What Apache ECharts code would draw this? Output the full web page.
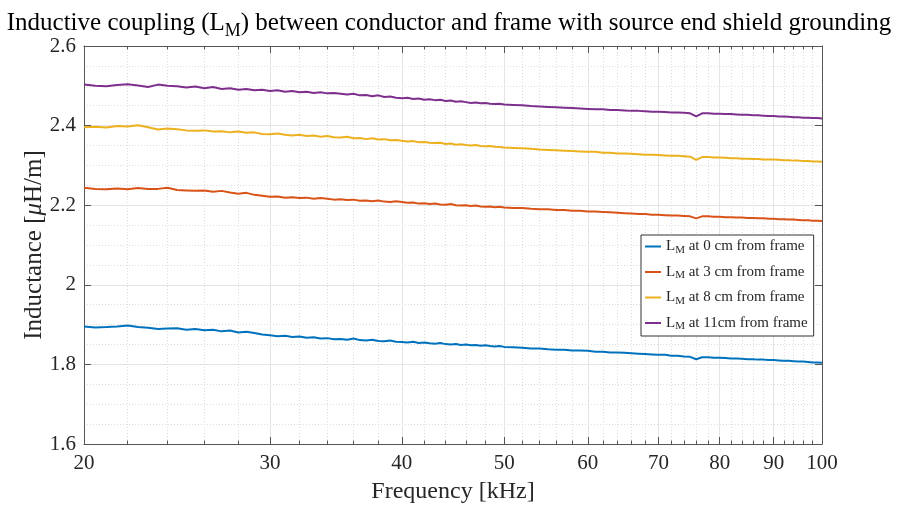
<!DOCTYPE html>
<html><head><meta charset="utf-8">
<script src="https://cdn.jsdelivr.net/npm/echarts@6/dist/echarts.min.js"></script>
<style>html,body{margin:0;padding:0;background:#fff}#c{width:898px;height:508px}</style>
</head><body><div id="c"></div>
<script>
const freqKHz = [20,20.5,21,21.5,22,22.5,23,23.5,24,24.5,
25,25.5,26,26.5,27,27.5,28,28.5,29,29.5,
30,30.5,31,31.5,32,32.5,33,33.5,34,34.5,
35,35.5,36,36.5,37,37.5,38,38.5,39,39.5,
40,40.5,41,41.5,42,42.5,43,43.5,44,44.5,
45,45.5,46,46.5,47,47.5,48,48.5,49,49.5,
50,51,52,53,54,55,56,57,58,59,
60,61,62,63,64,65,66,67,68,69,
70,71,72,73,74,75,76,77,78,79,
80,81,82,83,84,85,86,87,88,89,
90,91,92,93,94,95,96,97,98,99,100];

const lm0cm = [1.895,1.893,1.894,1.895,1.898,1.894,1.892,1.889,1.890,1.891,
1.887,1.889,1.886,1.887,1.883,1.885,1.880,1.882,1.879,1.875,
1.873,1.871,1.872,1.869,1.870,1.867,1.868,1.865,1.866,1.863,
1.864,1.862,1.865,1.861,1.860,1.862,1.859,1.858,1.860,1.857,
1.856,1.855,1.857,1.854,1.855,1.853,1.852,1.854,1.851,1.850,
1.851,1.849,1.850,1.848,1.849,1.847,1.848,1.846,1.845,1.846,
1.844,1.843,1.842,1.840,1.840,1.838,1.837,1.837,1.835,1.835,
1.834,1.832,1.832,1.830,1.830,1.829,1.828,1.827,1.826,1.825,
1.824,1.824,1.822,1.822,1.820,1.819,1.813,1.818,1.818,1.817,
1.817,1.816,1.815,1.815,1.814,1.813,1.813,1.812,1.812,1.811,
1.811,1.810,1.809,1.809,1.808,1.807,1.807,1.806,1.805,1.805,1.804];

const lm3cm = [2.244,2.241,2.240,2.242,2.240,2.243,2.241,2.241,2.244,2.238,
2.237,2.236,2.237,2.234,2.236,2.232,2.229,2.231,2.226,2.224,
2.221,2.222,2.219,2.220,2.218,2.219,2.216,2.218,2.216,2.214,
2.215,2.213,2.214,2.211,2.212,2.210,2.212,2.209,2.208,2.210,
2.208,2.206,2.207,2.204,2.205,2.203,2.204,2.202,2.201,2.203,
2.200,2.199,2.200,2.198,2.199,2.197,2.196,2.197,2.195,2.196,
2.194,2.193,2.193,2.191,2.190,2.190,2.188,2.188,2.186,2.186,
2.184,2.184,2.183,2.182,2.181,2.180,2.179,2.178,2.178,2.176,
2.176,2.175,2.174,2.174,2.173,2.172,2.167,2.172,2.172,2.171,
2.171,2.170,2.170,2.169,2.169,2.168,2.168,2.167,2.167,2.166,
2.166,2.165,2.165,2.164,2.164,2.163,2.162,2.162,2.161,2.161,2.160];

const lm8cm = [2.396,2.397,2.395,2.399,2.398,2.401,2.396,2.390,2.393,2.391,
2.388,2.387,2.388,2.385,2.386,2.383,2.385,2.382,2.383,2.379,
2.378,2.380,2.377,2.375,2.377,2.374,2.375,2.372,2.374,2.371,
2.370,2.372,2.368,2.369,2.366,2.368,2.365,2.366,2.363,2.364,
2.362,2.360,2.361,2.358,2.359,2.357,2.356,2.357,2.354,2.355,
2.352,2.353,2.351,2.350,2.351,2.349,2.348,2.349,2.347,2.346,
2.345,2.344,2.343,2.342,2.340,2.339,2.338,2.337,2.336,2.335,
2.334,2.334,2.332,2.332,2.330,2.330,2.329,2.328,2.327,2.327,
2.326,2.325,2.324,2.324,2.323,2.322,2.314,2.321,2.321,2.320,
2.320,2.319,2.318,2.318,2.317,2.317,2.316,2.316,2.315,2.315,
2.315,2.314,2.313,2.313,2.312,2.312,2.311,2.311,2.310,2.310,2.309];

const lm11cm = [2.503,2.500,2.499,2.502,2.504,2.501,2.497,2.503,2.500,2.499,
2.496,2.498,2.494,2.497,2.492,2.494,2.490,2.492,2.489,2.490,
2.487,2.489,2.485,2.487,2.484,2.485,2.482,2.484,2.481,2.482,
2.480,2.478,2.480,2.476,2.477,2.474,2.476,2.472,2.473,2.470,
2.469,2.470,2.467,2.468,2.465,2.466,2.464,2.465,2.462,2.463,
2.460,2.461,2.459,2.457,2.458,2.456,2.457,2.455,2.454,2.455,
2.453,2.452,2.451,2.449,2.448,2.447,2.446,2.445,2.444,2.443,
2.442,2.441,2.441,2.439,2.439,2.438,2.437,2.437,2.436,2.435,
2.435,2.434,2.433,2.433,2.432,2.431,2.423,2.431,2.431,2.430,
2.430,2.429,2.429,2.428,2.427,2.427,2.426,2.426,2.425,2.424,
2.424,2.423,2.423,2.422,2.421,2.421,2.420,2.420,2.419,2.419,2.418];

const seriesNames = ['LM at 0 cm from frame','LM at 3 cm from frame','LM at 8 cm from frame','LM at 11cm from frame'];
const seriesValues = [lm0cm, lm3cm, lm8cm, lm11cm];
const seriesColors = ['#0072BD','#D95319','#EDB120','#7E2F8E'];
const majorTicks = [20,30,40,50,60,70,80,90,100];
const minorTicks = [22,24,26,28,32,34,36,38,42,44,46,48,52,54,56,58,62,64,66,68,72,74,76,78,82,84,86,88,92,94,96,98];

const FONT = '"Liberation Serif", "Times New Roman", serif';
const AX = '#555555';
const TXT = '#262626';
const xMin = Math.log10(20), xMax = Math.log10(100);
const majorLog = majorTicks.map(v => Math.log10(v));
const minorLog = minorTicks.map(v => Math.log10(v));

function xAx(pos, ticks, len, opts) {
  return Object.assign({
    type: 'value', position: pos, min: xMin, max: xMax,
    axisLine: { show: false },
    axisTick: { show: true, inside: true, length: len, customValues: ticks, lineStyle: { color: AX, width: 1 } },
    axisLabel: { show: false },
    splitLine: { show: false }
  }, opts || {});
}

const chart = echarts.init(document.getElementById('c'), null, { renderer: 'canvas' });
chart.setOption({
  animation: false,
  backgroundColor: '#ffffff',
  title: {
    text: '{t|Inductive coupling (L}{s|M}{t|) between conductor and frame with source end shield grounding}',
    left: 'center', top: 2,
    textStyle: { fontWeight: 'normal', rich: {
      t: { fontFamily: FONT, fontSize: 25, fontWeight: 'normal', color: '#000' },
      s: { fontFamily: FONT, fontSize: 18, fontWeight: 'normal', color: '#000', padding: [15, 0, 0, 0] }
    } }
  },
  grid: { left: 84, right: 76, top: 46, bottom: 64, containLabel: false, outerBoundsMode: 'none' },
  xAxis: [
    xAx('bottom', majorLog, 7, {
      axisLine: { show: true, lineStyle: { color: AX, width: 1 } },
      axisLabel: { show: true, customValues: majorLog, margin: 9,
        formatter: v => String(Math.round(Math.pow(10, v))),
        fontFamily: FONT, fontSize: 21, color: TXT },
      splitLine: { show: true, lineStyle: { color: '#e4e4e4', width: 1 } },
      name: 'Frequency [kHz]', nameLocation: 'middle', nameGap: 36, nameMoveOverlap: false,
      nameTextStyle: { fontFamily: FONT, fontSize: 24, color: TXT }
    }),
    xAx('bottom', minorLog, 3.5, {
      splitLine: { show: true, lineStyle: { color: '#dddddd', width: 1, type: [1, 2] } }
    }),
    xAx('top', majorLog, 7, { axisLine: { show: true, lineStyle: { color: AX, width: 1 } } }),
    xAx('top', minorLog, 3.5)
  ],
  yAxis: [
    {
      type: 'value', position: 'left', min: 1.6, max: 2.6, interval: 0.2,
      axisLine: { show: true, lineStyle: { color: AX, width: 1 } },
      axisTick: { show: true, inside: true, length: 7, lineStyle: { color: AX } },
      axisLabel: { margin: 8, fontFamily: FONT, fontSize: 21, color: TXT },
      splitLine: { show: true, lineStyle: { color: '#e4e4e4', width: 1 } },
      minorTick: { show: false, splitNumber: 4 },
      minorSplitLine: { show: true, lineStyle: { color: '#dddddd', width: 1, type: [1, 2] } },
      name: '{a|Inductance [}{m|μ}{a|H/m]}', nameLocation: 'middle', nameGap: 37, nameRotate: 90,
      nameMoveOverlap: false,
      nameTextStyle: { rich: {
        a: { fontFamily: FONT, fontSize: 25, color: TXT },
        m: { fontFamily: FONT, fontSize: 25, color: TXT, fontStyle: 'italic' }
      } }
    },
    {
      type: 'value', position: 'right', min: 1.6, max: 2.6, interval: 0.2,
      axisLine: { show: true, lineStyle: { color: AX, width: 1 } },
      axisTick: { show: true, inside: true, length: 7, lineStyle: { color: AX } },
      axisLabel: { show: false },
      splitLine: { show: false }
    }
  ],
  legend: {
    orient: 'vertical', left: 641, top: 235,
    backgroundColor: '#ffffff', borderColor: '#333333', borderWidth: 1, borderRadius: 0,
    padding: [4, 6, 4, 4], itemGap: 9, itemWidth: 16, itemHeight: 2, icon: 'rect',
    data: seriesNames,
    formatter: name => '{a|L}{s|M}{a|' + name.slice(2) + '}',
    textStyle: { rich: {
      a: { fontFamily: FONT, fontSize: 15, color: TXT },
      s: { fontFamily: FONT, fontSize: 11, color: TXT, padding: [7, 0, 0, 0] }
    } }
  },
  series: seriesNames.map((n, i) => ({
    name: n, type: 'line', xAxisIndex: 0, yAxisIndex: 0,
    data: freqKHz.map((f, j) => [Math.log10(f), seriesValues[i][j]]),
    showSymbol: false, symbol: 'none',
    lineStyle: { width: 2, color: seriesColors[i] },
    itemStyle: { color: seriesColors[i] },
    z: 3
  }))
});
</script></body></html>
